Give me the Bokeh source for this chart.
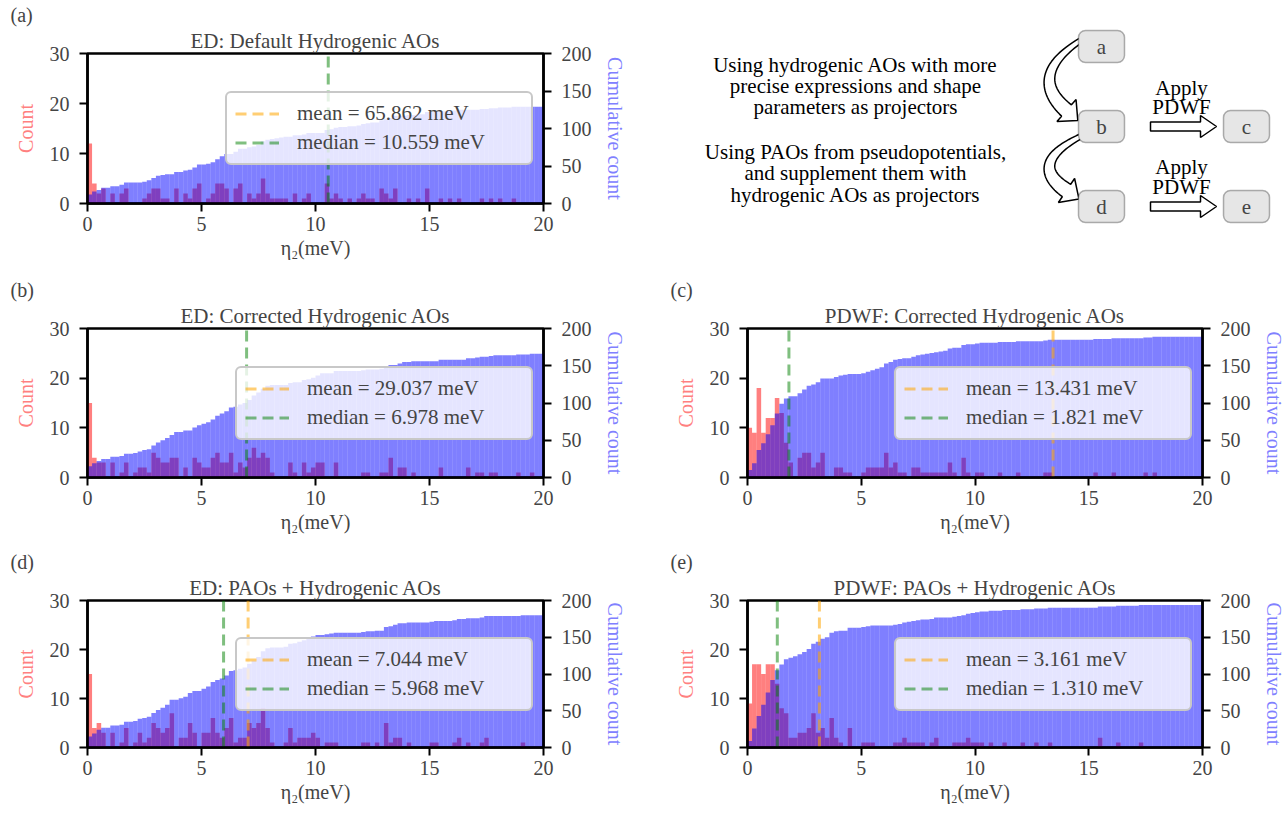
import numpy as np
from bokeh.plotting import figure
from bokeh.models import (Range1d, LinearAxis, Legend, LegendItem, Label, BoxAnnotation,
                          FixedTicker, Title)
from bokeh.layouts import column, row
from bokeh.embed import file_html
from bokeh.resources import INLINE

FONT = "Liberation Serif"

# ---------------- data ----------------
x_ticks = [0, 5, 10, 15, 20]
count_ticks = [0, 10, 20, 30]
cum_ticks = [0, 50, 100, 150, 200]
bin_edges = np.linspace(0.0, 20.0, 101)

panel_letters = ["(a)", "(b)", "(c)", "(d)", "(e)"]
titles = ["ED: Default Hydrogenic AOs", "ED: Corrected Hydrogenic AOs",
          "PDWF: Corrected Hydrogenic AOs", "ED: PAOs + Hydrogenic AOs",
          "PDWF: PAOs + Hydrogenic AOs"]
means = [65.862, 29.037, 13.431, 7.044, 3.161]
medians = [10.559, 6.978, 1.821, 5.968, 1.310]

counts_a = [12, 4, 2, 3, 0, 2, 0, 2, 3, 0,
            0, 0, 1, 2, 3, 3, 1, 1, 0, 3,
            0, 2, 1, 3, 4, 0, 1, 2, 4, 4,
            3, 0, 3, 4, 0, 2, 1, 2, 5, 2,
            1, 1, 1, 1, 0, 2, 0, 1, 2, 0,
            0, 0, 4, 1, 2, 1, 0, 1, 0, 1,
            2, 1, 1, 0, 3, 2, 1, 3, 0, 0,
            1, 0, 1, 0, 3, 0, 0, 1, 0, 1,
            0, 1, 0, 0, 0, 0, 1, 0, 1, 0,
            1, 0, 0, 1, 0, 0, 0, 0, 0, 0]
counts_b = [15, 4, 3, 3, 0, 3, 0, 1, 3, 0,
            1, 2, 2, 1, 5, 4, 3, 3, 4, 4,
            0, 2, 0, 4, 3, 2, 2, 4, 5, 3,
            3, 5, 1, 3, 2, 4, 6, 4, 5, 4,
            1, 0, 0, 0, 3, 1, 0, 3, 1, 2,
            3, 3, 0, 0, 3, 0, 0, 0, 0, 0,
            1, 1, 0, 0, 1, 1, 4, 0, 2, 2,
            0, 1, 0, 0, 0, 0, 0, 2, 0, 0,
            0, 0, 0, 2, 0, 1, 1, 0, 1, 1,
            0, 0, 0, 0, 1, 0, 0, 1, 0, 0]
counts_c = [10, 9, 18, 9, 12, 12, 16, 13, 7, 3,
            0, 4, 5, 5, 2, 3, 5, 0, 0, 2,
            2, 1, 1, 0, 0, 1, 2, 2, 2, 2,
            5, 2, 3, 1, 1, 0, 2, 2, 1, 1,
            1, 1, 1, 1, 3, 1, 0, 4, 1, 0,
            1, 1, 0, 0, 0, 1, 0, 0, 0, 1,
            0, 0, 0, 0, 0, 1, 1, 0, 0, 0,
            0, 0, 0, 0, 0, 0, 1, 0, 0, 0,
            1, 0, 0, 0, 0, 0, 0, 1, 0, 1,
            0, 0, 0, 0, 0, 0, 0, 0, 0, 0]
counts_d = [15, 4, 5, 3, 0, 3, 0, 1, 4, 0,
            1, 3, 1, 2, 5, 4, 3, 4, 7, 0,
            2, 2, 5, 3, 0, 3, 3, 6, 3, 2,
            4, 6, 1, 2, 2, 5, 4, 5, 8, 4,
            1, 0, 0, 1, 4, 1, 2, 2, 2, 3,
            2, 0, 1, 1, 1, 0, 0, 0, 0, 0,
            1, 1, 0, 1, 0, 5, 1, 2, 2, 0,
            1, 0, 0, 0, 0, 1, 1, 0, 0, 0,
            1, 2, 0, 1, 0, 0, 1, 2, 0, 0,
            0, 0, 0, 0, 0, 1, 0, 0, 0, 0]
counts_e = [9, 17, 17, 15, 17, 17, 13, 8, 7, 2,
            2, 3, 3, 4, 7, 3, 4, 2, 6, 2,
            1, 0, 4, 0, 0, 1, 1, 1, 0, 0,
            0, 0, 1, 1, 2, 1, 1, 1, 1, 0,
            1, 2, 0, 0, 0, 1, 1, 1, 2, 1,
            1, 1, 0, 1, 0, 0, 1, 0, 0, 0,
            1, 0, 0, 1, 0, 0, 1, 0, 0, 0,
            0, 0, 0, 0, 0, 0, 0, 2, 0, 0,
            0, 1, 0, 0, 0, 0, 1, 0, 0, 0,
            0, 0, 0, 0, 0, 0, 0, 0, 0, 0]
all_counts = [counts_a, counts_b, counts_c, counts_d, counts_e]

# diagram content
box_names = ["a", "b", "c", "d", "e"]
box_cx = [1101, 1101, 1246, 1101, 1246]
box_cy = [46, 126, 126, 206, 206]
text_block_1 = ["Using hydrogenic AOs with more", "precise expressions and shape", "parameters as projectors"]
text_block_2 = ["Using PAOs from pseudopotentials,", "and supplement them with", "hydrogenic AOs as projectors"]
apply_lines = ["Apply", "PDWF"]

RED_TXT = "#ff8080"
BLUE_TXT = "#8080ff"


def style_axis(ax, ticks):
    ax.ticker = FixedTicker(ticks=ticks)
    ax.minor_tick_line_color = None
    ax.major_tick_in = 0
    ax.major_tick_out = 8
    ax.major_tick_line_width = 2
    ax.axis_line_width = 2.5
    ax.major_label_text_font = FONT
    ax.major_label_text_font_size = "20px"
    ax.axis_label_text_font = FONT
    ax.axis_label_text_font_size = "20px"
    ax.axis_label_text_font_style = "normal"


def make_panel(i, frame_w, frame_h, b_left, b_right, b_top, b_bottom):
    counts = np.array(all_counts[i])
    cum = np.cumsum(counts)
    p = figure(frame_width=frame_w, frame_height=frame_h,
               x_range=Range1d(0, 20), y_range=Range1d(0, 30),
               output_backend="svg", toolbar_location=None,
               min_border_left=b_left, min_border_right=b_right,
               min_border_top=b_top, min_border_bottom=b_bottom,
               title=panel_letters[i])
    p.extra_y_ranges = {"cum": Range1d(0, 200)}
    p.xgrid.visible = False
    p.ygrid.visible = False
    p.outline_line_color = "black"
    p.outline_line_width = 2.5
    p.outline_line_alpha = 1.0
    # panel letter as the plot title (left, shifted to the page margin)
    p.title.align = "left"
    p.title.offset = -77
    p.title.text_font = FONT
    p.title.text_font_size = "20px"
    p.title.text_font_style = "normal"
    p.title.standoff = 0
    # chart title
    p.add_layout(Title(text=titles[i], align="center", text_font=FONT,
                       text_font_size="21px", text_font_style="normal", standoff=2), "above")

    p.quad(left=bin_edges[:-1], right=bin_edges[1:], bottom=0, top=counts,
           fill_color="red", fill_alpha=0.5, line_color=None)
    p.quad(left=bin_edges[:-1], right=bin_edges[1:], bottom=0, top=cum,
           fill_color="blue", fill_alpha=0.5, line_color=None, y_range_name="cum")
    r_mean = p.line([means[i], means[i]], [0, 30], line_color="orange", line_alpha=0.55,
                    line_width=3, line_dash="11 6")
    r_med = p.line([medians[i], medians[i]], [0, 30], line_color="green", line_alpha=0.5,
                   line_width=3, line_dash="11 6")

    style_axis(p.xaxis[0], x_ticks)
    p.xaxis[0].axis_label = "\u03b7\u2082(meV)"
    p.xaxis[0].major_label_standoff = 5
    p.xaxis[0].axis_label_standoff = 3
    style_axis(p.yaxis[0], count_ticks)
    p.yaxis[0].axis_label = "Count"
    p.yaxis[0].axis_label_text_color = RED_TXT
    p.yaxis[0].major_label_standoff = 10
    p.yaxis[0].axis_label_standoff = 10
    ax2 = LinearAxis(y_range_name="cum")
    style_axis(ax2, cum_ticks)
    ax2.axis_label = "Cumulative count"
    ax2.axis_label_text_color = BLUE_TXT
    ax2.major_label_standoff = 10
    ax2.axis_label_standoff = 9
    p.add_layout(ax2, "right")

    lab_mean = f"mean = {means[i]:.3f} meV"
    lab_med = f"median = {medians[i]:.3f} meV"
    longest = max(len(lab_mean), len(lab_med))
    legend = Legend(items=[LegendItem(label=lab_mean, renderers=[r_mean]),
                           LegendItem(label=lab_med, renderers=[r_med])],
                    location="right")
    legend.label_text_font = FONT
    legend.label_text_font_size = "21px"
    legend.background_fill_color = "white"
    legend.background_fill_alpha = 0.8
    legend.border_line_color = "#c8c8c8"
    legend.border_line_width = 2
    legend.border_line_alpha = 1.0
    legend.glyph_width = 44
    legend.glyph_height = 25
    legend.label_height = 25
    legend.label_width = 216 + 10 * (longest - 18)
    legend.label_standoff = 18
    legend.padding = 8
    legend.spacing = 4
    legend.margin = 10
    if "border_radius" in Legend.properties():
        legend.border_radius = 6
    p.add_layout(legend)
    return p


def arrow_patch(p0, p1, p2, w0, w1, head_w, head_l, n=40):
    t = np.linspace(0, 1, n)[:, None]
    P0, P1, P2 = np.array(p0, float), np.array(p1, float), np.array(p2, float)
    pts = (1 - t) ** 2 * P0 + 2 * (1 - t) * t * P1 + t ** 2 * P2
    d = 2 * (1 - t) * (P1 - P0) + 2 * t * (P2 - P1)
    d = d / np.linalg.norm(d, axis=1)[:, None]
    nrm = np.column_stack([-d[:, 1], d[:, 0]])
    w = (w0 + (w1 - w0) * t) / 2
    left = pts + nrm * w
    right = pts - nrm * w
    u = d[-1]
    nn = nrm[-1]
    tip = pts[-1] + u * head_l
    hl = pts[-1] + nn * head_w / 2
    hr = pts[-1] - nn * head_w / 2
    poly = np.vstack([left, hl, tip, hr, right[::-1]])
    return list(poly[:, 0]), list(poly[:, 1])


def make_diagram():
    d = figure(frame_width=625, frame_height=275, x_range=Range1d(660, 1285),
               y_range=Range1d(275, 0), output_backend="svg", toolbar_location=None,
               min_border=0, x_axis_location=None, y_axis_location=None)
    d.xgrid.visible = False
    d.ygrid.visible = False
    d.outline_line_color = None
    bw, bh = 46, 32
    for name, cx, cy in zip(box_names, box_cx, box_cy):
        box = BoxAnnotation(left=cx - bw / 2, right=cx + bw / 2, bottom=cy + bh / 2, top=cy - bh / 2,
                            fill_color="#e6e6e6", fill_alpha=1.0, line_color="black", line_width=1.5)
        try:
            box.border_radius = 7
        except Exception:
            pass
        d.add_layout(box)
    for name, cx, cy in zip(box_names, box_cx, box_cy):
        d.add_layout(Label(x=cx, y=cy, text=name, text_font=FONT, text_font_size="21px",
                           text_align="center", text_baseline="middle"))
    ys1 = [64, 85, 106]
    ys2 = [151, 172, 194]
    d.text(x=[855] * 3, y=ys1, text=text_block_1, text_font={"value": FONT},
           text_font_size="21px", text_align="center", text_baseline="middle")
    d.text(x=[855] * 3, y=ys2, text=text_block_2, text_font={"value": FONT},
           text_font_size="21px", text_align="center", text_baseline="middle")
    d.text(x=[1181] * 2, y=[87, 106], text=apply_lines, text_font={"value": FONT},
           text_font_size="21px", text_align="center", text_baseline="middle")
    d.text(x=[1181] * 2, y=[166, 186], text=apply_lines, text_font={"value": FONT},
           text_font_size="21px", text_align="center", text_baseline="middle")
    # curved arrows a->b, b->d
    for (ys, ye) in [(40, 110), (136, 190)]:
        xs_, ys_ = arrow_patch((1080, ys), (1026, (ys + ye) / 2), (1066, ye), 5, 15, 29, 15)
        d.patch(xs_, ys_, fill_color="white", line_color="black", line_width=1.5)
    # straight arrows b->c, d->e
    for yc in [126, 206]:
        xs_, ys_ = arrow_patch((1150, yc), (1175, yc), (1200, yc), 9, 9, 22, 16)
        d.patch(xs_, ys_, fill_color="white", line_color="black", line_width=1.5)
    return d


pa = make_panel(0, 456, 150, 87, 117, 53, 72)
pb = make_panel(1, 456, 149, 87, 117, 53, 70)
pc = make_panel(2, 455, 149, 87, 83, 53, 70)
pd = make_panel(3, 456, 147, 87, 117, 53, 68)
pe = make_panel(4, 455, 147, 87, 83, 53, 68)
pdiag = make_diagram()

layout = column(row(pa, column(pdiag)), row(pb, pc), row(pd, pe))
open("out.html", "w").write(file_html(layout, INLINE))
